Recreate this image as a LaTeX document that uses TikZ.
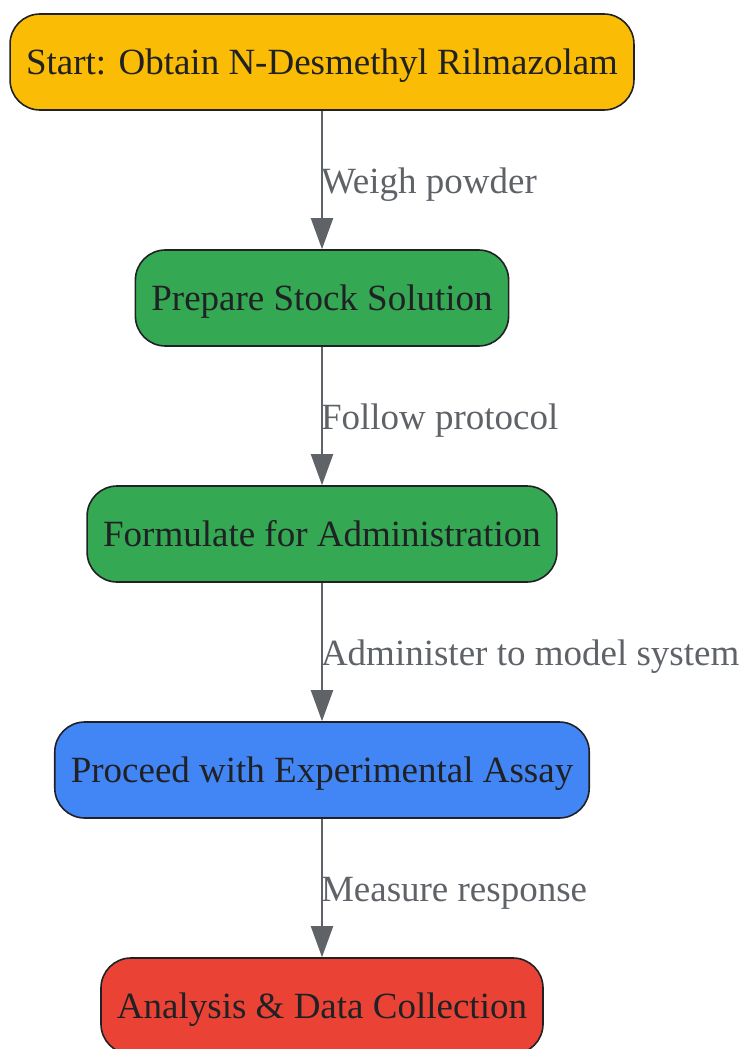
\documentclass[tikz,border=0pt]{standalone}
\usepackage{fontspec}
\setmainfont{Liberation Serif}
\usetikzlibrary{arrows.meta}
\definecolor{startyellow}{HTML}{FBBC05}
\definecolor{prepgreen}{HTML}{34A853}
\definecolor{assayblue}{HTML}{4285F4}
\definecolor{endred}{HTML}{EA4335}
\definecolor{nodeline}{HTML}{202124}
\definecolor{edgegray}{HTML}{5F6368}
\colorlet{nodetext}{nodeline}
\tikzstyle{stepnode} = [draw=nodeline, line width=1.6pt, rounded corners=30pt,
    minimum height=96pt, inner xsep=16pt, text height=30pt, text depth=4.5pt,
    text=nodetext, font=\fontsize{37}{44}\selectfont
]
\tikzstyle{flow} = [draw=edgegray, line width=2pt, -{Triangle[length=31pt,width=22pt]}]
\tikzstyle{flowlabel} = [anchor=west, inner sep=0pt, xshift=-2pt, yshift=-5pt,
    text=edgegray, font=\fontsize{37}{44}\selectfont
]
\begin{document}
\begin{tikzpicture}[x=1pt,y=-1pt]
	\useasboundingbox (0,0) rectangle (744,1049);
	
	\node(start) at (322,62) [stepnode, fill=startyellow] {Start: Obtain N-Desmethyl Rilmazolam};
	\node(stock) at (322,298) [stepnode, fill=prepgreen] {Prepare Stock Solution};
	\node(formulate) at (322,534) [stepnode, fill=prepgreen] {Formulate for Administration};
	\node(assay) at (322,770) [stepnode, fill=assayblue] {Proceed with Experimental Assay};
	\node(analysis) at (322,1006) [stepnode, fill=endred] {Analysis \& Data Collection};
	
	\draw[flow] (start) -- (stock) node[flowlabel, midway] {Weigh powder};
	\draw[flow] (stock) -- (formulate) node[flowlabel, midway] {Follow protocol};
	\draw[flow] (formulate) -- (assay) node[flowlabel, midway] {Administer to model system};
	\draw[flow] (assay) -- (analysis) node[flowlabel, midway] {Measure response};
\end{tikzpicture}
\end{document}
